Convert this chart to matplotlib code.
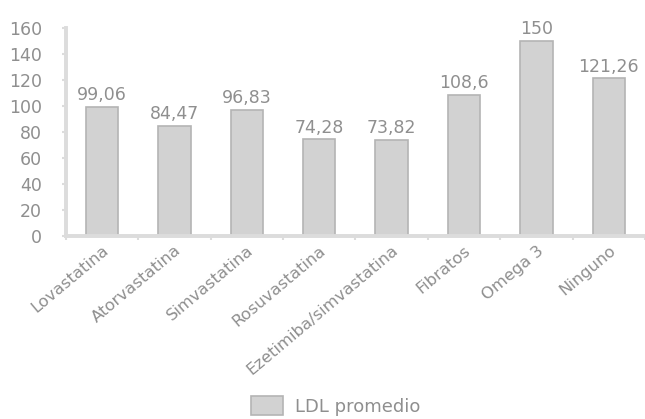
import matplotlib
matplotlib.use("Agg")
import matplotlib.pyplot as plt
from matplotlib.patches import Patch
from matplotlib.transforms import ScaledTranslation
import numpy as np

CATEGORIES = ["Lovastatina", "Atorvastatina", "Simvastatina", "Rosuvastatina",
              "Ezetimiba/simvastatina", "Fibratos", "Omega 3", "Ninguno"]
LDL_MEAN = [99.06, 84.47, 96.83, 74.28, 73.82, 108.6, 150, 121.26]
VALUE_LABELS = ["99,06", "84,47", "96,83", "74,28", "73,82", "108,6", "150", "121,26"]
Y_TICKS = [0, 20, 40, 60, 80, 100, 120, 140, 160]

BAR_FACE = "#d2d2d2"
BAR_EDGE = "#b4b4b4"
AXIS_GRAY = "#dcdcdc"
TEXT_GRAY = "#8f8f8f"

plt.rcParams["font.family"] = ["DejaVu Sans"]

fig = plt.figure(figsize=(6.45, 4.19), dpi=100)
ax = fig.add_axes([0.102, 0.437, 0.898, 0.496])

x = np.arange(len(CATEGORIES))
ax.bar(x, LDL_MEAN, width=0.45, color=BAR_FACE, edgecolor=BAR_EDGE,
       linewidth=1.2, label="LDL promedio")

for xi, val, lab in zip(x, LDL_MEAN, VALUE_LABELS):
    ax.annotate(lab, (xi, val), textcoords="offset points", xytext=(0, 2),
                ha="center", va="bottom", fontsize=12.5, color=TEXT_GRAY)

ax.set_xlim(-0.5, len(CATEGORIES) - 0.5)
ax.set_ylim(0, 160)
ax.set_yticks(Y_TICKS)
ax.set_yticklabels([str(t) for t in Y_TICKS], fontsize=12.5, color=TEXT_GRAY)

# category labels at bar centres, tick marks at category boundaries
ax.set_xticks(x)
ax.set_xticklabels(CATEGORIES, rotation=40, ha="right", rotation_mode="anchor",
                   fontsize=11.8, color=TEXT_GRAY)
shift = ScaledTranslation(6 / 72, 0, fig.dpi_scale_trans)
for lbl in ax.get_xticklabels():
    lbl.set_transform(lbl.get_transform() + shift)
ax.tick_params(axis="x", which="major", length=0, pad=5)
ax.set_xticks(np.arange(len(CATEGORIES) + 1) - 0.5, minor=True)
ax.tick_params(axis="x", which="minor", length=3, color=AXIS_GRAY, width=1.5)
ax.tick_params(axis="y", length=3, color=AXIS_GRAY, width=1.5, pad=14)

for side in ("top", "right"):
    ax.spines[side].set_visible(False)
for side in ("left", "bottom"):
    ax.spines[side].set_color(AXIS_GRAY)
    ax.spines[side].set_linewidth(2.8)

handle = Patch(facecolor=BAR_FACE, edgecolor=BAR_EDGE, linewidth=1.2)
fig.legend([handle], ["LDL promedio"], loc="center", bbox_to_anchor=(0.521, 0.031),
           frameon=False, fontsize=13, labelcolor=TEXT_GRAY, handlelength=1.75,
           handleheight=1.2, handletextpad=0.7)

fig.savefig("out.png", dpi=100)
